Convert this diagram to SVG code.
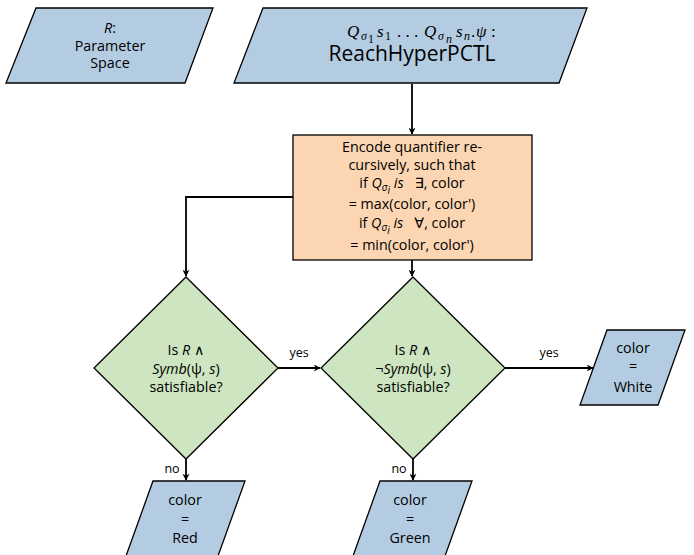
<svg xmlns="http://www.w3.org/2000/svg" width="694" height="555" viewBox="0 0 694 555">
  <defs>
    <marker id="arrow" viewBox="0 0 10 10" refX="9" refY="5" markerWidth="7" markerHeight="7" markerUnits="userSpaceOnUse" orient="auto">
      <path d="M0,0 L10,5 L0,10 L3,5 Z" fill="#000"/>
    </marker>
    <style>
      .io { fill: #b4cce2; stroke: #000; stroke-width: 1.3; }
      .proc { fill: #fcd6b2; stroke: #000; stroke-width: 1.3; }
      .dec { fill: #cde5c0; stroke: #000; stroke-width: 1.3; }
      .edge { fill: none; stroke: #000; stroke-width: 1.8; marker-end: url(#arrow); }
      text { font-family: "Open Sans", "DejaVu Sans", sans-serif; font-size: 14.3px; fill: #000; text-anchor: middle; }
      .big { font-size: 21px; }
      .lbl { font-size: 12.5px; }
      .mi { font-style: italic; }
      .sub { font-size: 10px; }
      .math { font-family: "Liberation Serif", "DejaVu Serif", serif; font-style: italic; font-size: 17px; text-anchor: start; }
      .math .s { font-size: 12px; }
      .math .up { font-style: normal; }
    </style>
  </defs>

  <!-- parameter space input -->
  <g id="param">
    <polygon class="io" points="36,8 213,8 185,83 6,83"/>
    <text x="110" y="33"><tspan class="mi">R</tspan>:</text>
    <text x="110" y="51">Parameter</text>
    <text x="110" y="68">Space</text>
  </g>

  <!-- property input: quantifier prefix and formula class -->
  <g id="property">
    <polygon class="io" points="263,8 587,8 559,83 234,83"/>
    <text class="math" y="37"><tspan x="347">Q</tspan><tspan class="s" x="361" y="40">σ</tspan><tspan class="s up" x="368" y="43">1</tspan><tspan x="377" y="37">s</tspan><tspan class="s up" x="385" y="40">1</tspan><tspan class="up" x="397" y="37">. . .</tspan><tspan x="424" y="37">Q</tspan><tspan class="s" x="438" y="40">σ</tspan><tspan class="s" x="446" y="43">n</tspan><tspan x="456" y="37">s</tspan><tspan class="s" x="464" y="40">n</tspan><tspan class="up" x="471" y="37">.</tspan><tspan x="476" y="37">ψ</tspan><tspan class="up" x="491" y="37">:</tspan></text>
    <text class="big" x="412" y="61">ReachHyperPCTL</text>
  </g>

  <!-- quantifier encoding -->
  <g id="encode">
    <rect class="proc" x="293" y="135" width="239" height="125"/>
    <text x="412" y="152">Encode quantifier re-</text>
    <text x="412" y="170">cursively, such that</text>
    <text x="412" y="188" xml:space="preserve">if <tspan class="mi">Q</tspan><tspan class="mi sub" dy="3">σ</tspan><tspan class="mi sub" dy="3">i</tspan><tspan class="mi" dy="-6"> is</tspan>   ∃, color</text>
    <text x="412" y="209">= max(color, color')</text>
    <text x="412" y="228" xml:space="preserve">if <tspan class="mi">Q</tspan><tspan class="mi sub" dy="3">σ</tspan><tspan class="mi sub" dy="3">i</tspan><tspan class="mi" dy="-6"> is</tspan>   ∀, color</text>
    <text x="412" y="250">= min(color, color')</text>
  </g>

  <!-- first satisfiability check -->
  <g id="check1">
    <polygon class="dec" points="186,277 278,368 186,459 94,368"/>
    <text x="186" y="355">Is <tspan class="mi">R</tspan> ∧</text>
    <text x="186" y="374"><tspan class="mi">Symb</tspan>(ψ, <tspan class="mi">s</tspan>)</text>
    <text x="186" y="392">satisfiable?</text>
  </g>

  <!-- second satisfiability check -->
  <g id="check2">
    <polygon class="dec" points="413,277 505,368 413,459 321,368"/>
    <text x="413" y="355">Is <tspan class="mi">R</tspan> ∧</text>
    <text x="413" y="374">¬<tspan class="mi">Symb</tspan>(ψ, <tspan class="mi">s</tspan>)</text>
    <text x="413" y="392">satisfiable?</text>
  </g>

  <!-- outputs -->
  <g id="white">
    <polygon class="io" points="607,330 685,330 658,405 580,405"/>
    <text x="633" y="353">color</text>
    <text x="633" y="371">=</text>
    <text x="633" y="392">White</text>
  </g>
  <g id="red">
    <polygon class="io" points="153,481 245,481 218,556 126,556"/>
    <text x="185" y="505">color</text>
    <text x="185" y="524">=</text>
    <text x="185" y="543">Red</text>
  </g>
  <g id="green">
    <polygon class="io" points="380,481 472,481 445,556 353,556"/>
    <text x="410" y="505">color</text>
    <text x="410" y="524">=</text>
    <text x="410" y="543">Green</text>
  </g>

  <!-- connectors -->
  <g id="connectors">
    <path class="edge" d="M412,84 L412,134"/>
    <path class="edge" d="M293,197 L186,197 L186,276"/>
    <path class="edge" d="M412,260 L412,276"/>
    <path class="edge" d="M278,368 L320,368"/>
    <path class="edge" d="M505,368 L593,368"/>
    <path class="edge" d="M186,459 L186,480"/>
    <path class="edge" d="M413,459 L413,480"/>
    <text class="lbl" x="299" y="357">yes</text>
    <text class="lbl" x="549" y="357">yes</text>
    <text class="lbl" x="172" y="473">no</text>
    <text class="lbl" x="399" y="473">no</text>
  </g>
</svg>
